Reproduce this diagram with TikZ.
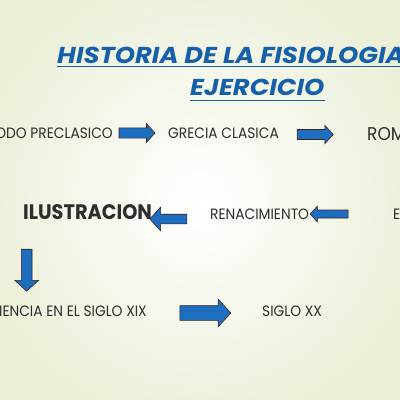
\documentclass[tikz,border=0pt]{standalone}
\usepackage{fontspec}
\setmainfont{Poppins}[FakeStretch=0.92]
\newfontfamily\titlefont{Poppins}[FakeStretch=1.12]
\usetikzlibrary{shapes.arrows}
\definecolor{titleblue}{RGB}{22,96,170}
\definecolor{arrowblue}{RGB}{30,110,192}
\definecolor{arrowedge}{RGB}{60,32,32}
\definecolor{bgedge}{RGB}{234,239,214}
\definecolor{textgray}{RGB}{45,45,45}
\tikzset{
  label/.style={anchor=base west,inner sep=0pt,text=textgray,font=\fontsize{15}{15}\selectfont},
  titletext/.style={anchor=base west,inner sep=0pt,text=titleblue,font=\titlefont\fontsize{23}{23}\selectfont\bfseries\itshape},
  barrow/.style={single arrow,draw=arrowedge,fill=arrowblue,line width=0.6pt,single arrow tip angle=95},
}
\begin{document}
\begin{tikzpicture}[x=1pt,y=-1pt]
\useasboundingbox (0,0) rectangle (400,400);
\clip (0,0) rectangle (400,400);
%Background
\shade[inner color=white,outer color=bgedge] (-40,-40) rectangle (440,440);
%Title
\node[titletext] (title1) at (57,63) {HISTORIA DE LA FISIOLOGIA};
\node[titletext] (title2) at (190,95) {EJERCICIO};
\draw[titleblue,line width=1.6pt] ([yshift=-3.5pt]title1.base west) -- ([yshift=-3.5pt]title1.base east);
\draw[titleblue,line width=1.6pt] ([yshift=-5.5pt]title2.base west) -- ([yshift=-5.5pt]title2.base east);
%Row 1
\node[label,anchor=base east] (preclasico) at (113,138.3) {ODO PRECLASICO};
\node[barrow,inner sep=4.8pt,minimum height=36pt,single arrow head extend=4.2pt] (a1) at (134.7,133) {};
\node[label] (grecia) at (168,138.3) {GRECIA CLASICA};
\node[barrow,inner sep=4.7pt,minimum height=36pt,single arrow head extend=4.2pt] (a2) at (313,134.5) {};
\node[label,font=\fontsize{18.5}{18.5}\selectfont] (roma) at (367,140) {ROM};
%Row 2
\node[label,font=\fontsize{21}{21}\selectfont\bfseries] (ilustracion) at (23,219.3) {ILUSTRACION};
\node[barrow,shape border rotate=180,inner sep=4.5pt,minimum height=37pt,single arrow head extend=7pt] (a3) at (170.5,219) {};
\node[label] (renacimiento) at (210,219.3) {RENACIMIENTO};
\node[barrow,shape border rotate=180,inner sep=3.7pt,minimum height=38pt,single arrow head extend=3.8pt] (a4) at (331,214) {};
\node[label] (edad) at (393,219.3) {E};
%Row 3
\node[barrow,shape border rotate=270,inner sep=5pt,minimum height=42pt,single arrow head extend=6.5pt] (a5) at (26.7,267.8) {};
\node[label,anchor=base east] (ciencia) at (147,316) {IENCIA EN EL SIGLO XIX};
\node[barrow,inner sep=7pt,minimum height=51pt,single arrow head extend=6.5pt] (a6) at (202,313) {};
\node[label] (siglo) at (262,316) {SIGLO XX};
\end{tikzpicture}
\end{document}
